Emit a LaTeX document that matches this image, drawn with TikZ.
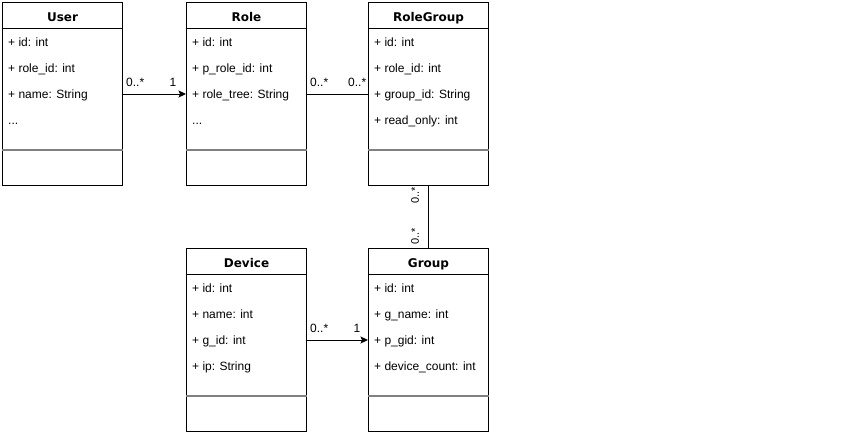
\documentclass[tikz,border=0pt]{standalone}
\usepackage{fontspec}
\setmainfont{Liberation Sans}
\newfontfamily\titlefont{DejaVu Sans}
\usetikzlibrary{arrows.meta}
\definecolor{sepgray}{RGB}{128,128,128}
\newcommand\tdots{...}
\newcommand\umlclass[4]{%
  \node[classbox] (#1) at (#2) {};
  \draw[conn] ([yshift=-26pt]#1.north west) -- ([yshift=-26pt]#1.north east);
  \draw[sepline] ([yshift=-148pt]#1.north west) -- ([yshift=-148pt]#1.north east);
  \node[title,anchor=base] (#1-t) at ([yshift=-19pt]#1.north) {#3};
  \foreach \a [count=\i] in {#4} {
    \node[attr] (#1-\i) at ([xshift=6pt,yshift={-44.5pt-(\i-1)*26pt}]#1.north west) {\a};
  }%
}
\begin{document}
\begin{tikzpicture}[x=1pt,y=-1pt,
  classbox/.style={draw,line width=1pt,minimum width=120pt,minimum height=183pt,inner sep=0pt,anchor=north west},
  title/.style={font=\titlefont\bfseries\fontsize{12}{14}\selectfont,inner sep=0pt},
  attr/.style={font=\fontsize{12}{14}\selectfont,inner sep=0pt,anchor=base west},
  mult/.style={font=\fontsize{12}{14}\selectfont,inner sep=0pt,anchor=base west},
  vmult/.style={font=\fontsize{11}{13}\selectfont,inner sep=0pt,rotate=90,anchor=center},
  conn/.style={line width=1pt},
  sepline/.style={line width=1.6pt,draw=sepgray},
  arr/.style={-{Stealth[length=7.5pt,width=7pt,inset=1.5pt]}}]
\useasboundingbox (0,0) rectangle (859,434);
\umlclass{user}{2,2}{User}{+ id: int,+ role\_id: int,+ name: String,\tdots}
\umlclass{role}{186,2}{Role}{+ id: int,+ p\_role\_id: int,+ role\_tree: String,\tdots}
\umlclass{rolegroup}{368,2}{RoleGroup}{+ id: int,+ role\_id: int,+ group\_id: String,+ read\_only: int}
\umlclass{device}{186,248}{Device}{+ id: int,+ name: int,+ g\_id: int,+ ip: String}
\umlclass{group}{368,248}{Group}{+ id: int,+ g\_name: int,+ p\_gid: int,+ device\_count: int}
\draw[conn,arr] (user) -- (role);
\draw[conn] (role) -- (rolegroup);
\draw[conn] (rolegroup) -- (group);
\draw[conn,arr] (device) -- (group);
\node[mult] (m1) at (126,86) {0..*};
\node[mult] (m2) at (169.5,86) {1};
\node[mult] (m3) at (310,86) {0..*};
\node[mult] (m4) at (348,86) {0..*};
\node[mult] (m5) at (310,332) {0..*};
\node[mult] (m6) at (353.5,332) {1};
\node[vmult] (m7) at (415,195) {0..*};
\node[vmult] (m8) at (415,236) {0..*};
\end{tikzpicture}
\end{document}
